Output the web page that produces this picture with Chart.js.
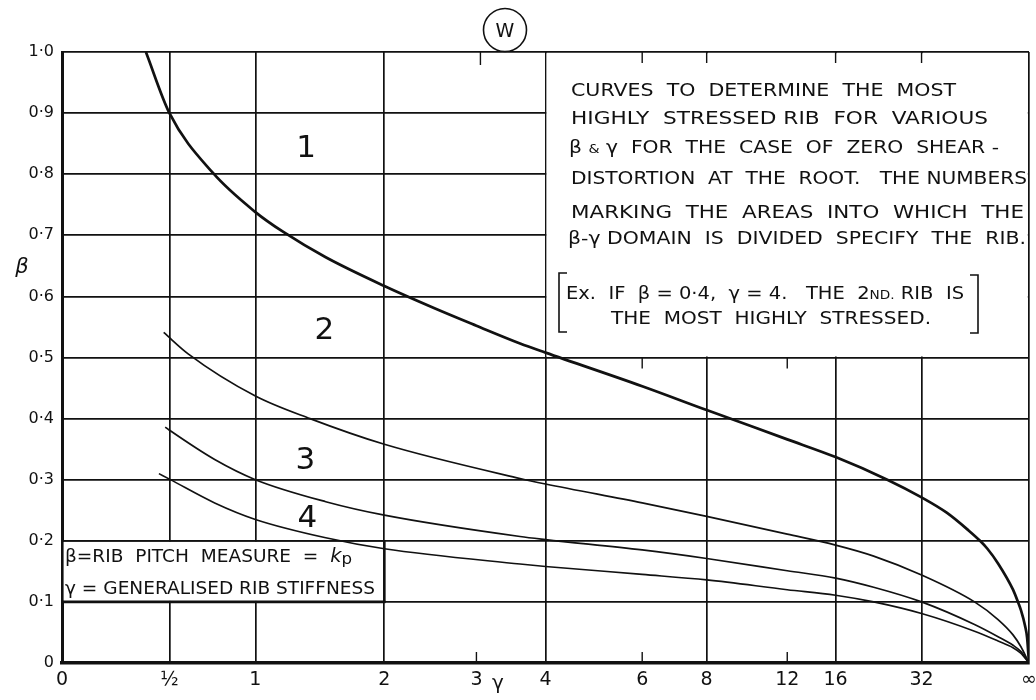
<!DOCTYPE html>
<html>
<head>
<meta charset="utf-8">
<script src="https://cdn.jsdelivr.net/npm/chart.js@4/dist/chart.umd.min.js"></script>
<style>
  html, body { margin: 0; padding: 0; background: #fff; }
  #wrap { width: 1036px; height: 700px; }
</style>
</head>
<body>
<div id="wrap"><canvas id="chart" width="1036" height="700"></canvas></div>
<script>
// γ divisions along the bottom scale and their labels
const xTickGamma  = [0, 0.5, 1, 2, 3, 4, 6, 8, 12, 16, 32, Infinity];
const xTickLabels = ['0', '½', '1', '2', '3', '4', '6', '8', '12', '16', '32', '∞'];
// divisions that only get a short tick instead of a full rule
const xShortTicks = [3, 6, 12];

// β divisions and their labels
const yTickValues = [0, 0.1, 0.2, 0.3, 0.4, 0.5, 0.6, 0.7, 0.8, 0.9, 1.0];
const yTickLabels = ['0', '0·1', '0·2', '0·3', '0·4', '0·5', '0·6', '0·7', '0·8', '0·9', '1·0'];

// Boundary between regions 1 and 2
const curve12Gamma = [0.38, 0.5, 0.74, 1, 1.19, 1.5, 2, 2.5, 3, 3.6, 4, 6, 8, 12, 16, 23.3, 32, 43, 60, 75, 89, 121, 238, 360, 480, 970, 2000, Infinity];
const curve12Beta  = [1.0, 0.9, 0.802, 0.738, 0.705, 0.664, 0.617, 0.581, 0.552, 0.523, 0.508, 0.453, 0.414, 0.366, 0.337, 0.3, 0.271, 0.246, 0.217, 0.2, 0.187, 0.163, 0.12, 0.098, 0.086, 0.061, 0.042, 0];

// Boundary between regions 2 and 3
const curve23Gamma = [0.47, 0.6, 1, 1.38, 2, 3.6, 4, 6, 8, 12, 16, 20.9, 32, 67, 121, 238, 466, Infinity];
const curve23Beta  = [0.541, 0.506, 0.437, 0.4, 0.358, 0.302, 0.293, 0.262, 0.24, 0.211, 0.193, 0.175, 0.144, 0.1, 0.071, 0.046, 0.027, 0];

// Boundary between regions 3 and 4
const curve34Gamma = [0.478, 0.5, 0.75, 1, 1.5, 2, 3.6, 4, 6, 8, 12, 16, 20.9, 32, 67, 121, 238, 466, Infinity];
const curve34Beta  = [0.386, 0.381, 0.333, 0.3, 0.264, 0.242, 0.207, 0.202, 0.185, 0.171, 0.151, 0.139, 0.124, 0.1, 0.063, 0.043, 0.029, 0.019, 0];

// Boundary between regions 4 and 5
const curve45Gamma = [0.4455, 0.5, 0.75, 1, 1.5, 2, 3.6, 4, 6, 8, 12, 16, 20.9, 32, 67, 121, 238, 466, Infinity];
const curve45Beta  = [0.31, 0.301, 0.262, 0.235, 0.205, 0.187, 0.162, 0.158, 0.145, 0.136, 0.12, 0.111, 0.1, 0.081, 0.052, 0.036, 0.025, 0.016, 0];

// Region numbers and where they sit (γ, β)
const regionNames = ['1', '2', '3', '4'];
const regionGamma = [1.35, 1.49, 1.345, 1.36];
const regionBeta  = [0.846, 0.549, 0.336, 0.241];

// The γ scale is drawn as γ/(γ+4), which sends ∞ to the right-hand edge
const toU = g => (g === Infinity ? 1 : g / (g + 4));

const INK = '#111';
const FONT = '"DejaVu Sans", sans-serif';

function curve(gammas, betas, width) {
  return {
    data: gammas.map((g, i) => ({ x: toU(g), y: betas[i] })),
    showLine: true,
    borderColor: INK,
    borderWidth: width,
    pointRadius: 0,
    cubicInterpolationMode: 'monotone',
    fill: false
  };
}

// Draws a line of lettering stretched to a set width; segs = [text, scale, style, dy]
function letter(ctx, segs, x, cy, width, size) {
  const parts = segs.map(s => ({ t: s[0], k: s[1] || 1, st: s[2] || '', dy: s[3] || 0 }));
  let total = 0;
  parts.forEach(p => {
    ctx.font = `${p.st} ${p.k * size}px ${FONT}`;
    p.w = ctx.measureText(p.t).width;
    total += p.w;
  });
  ctx.save();
  ctx.translate(x, cy + 0.365 * size);
  ctx.scale(width / total, 1);
  ctx.textAlign = 'left';
  ctx.textBaseline = 'alphabetic';
  let cx = 0;
  parts.forEach(p => {
    ctx.font = `${p.st} ${p.k * size}px ${FONT}`;
    ctx.fillText(p.t, cx, p.dy);
    cx += p.w;
  });
  ctx.restore();
}

function glyph(ctx, text, cx, cy, size, style) {
  ctx.save();
  ctx.font = `${style || ''} ${size}px ${FONT}`;
  ctx.textAlign = 'center';
  ctx.textBaseline = 'alphabetic';
  ctx.fillText(text, cx, cy + 0.365 * size);
  ctx.restore();
}

function seg(ctx, x1, y1, x2, y2, w) {
  ctx.beginPath();
  ctx.lineWidth = w;
  ctx.moveTo(x1, y1);
  ctx.lineTo(x2, y2);
  ctx.stroke();
}

const sheet = {
  id: 'sheet',
  beforeDraw(chart) {
    const ctx = chart.ctx;
    ctx.save();
    ctx.fillStyle = '#fff';
    ctx.fillRect(0, 0, chart.width, chart.height);
    ctx.restore();
  },
  beforeDatasetsDraw(chart) {
    const ctx = chart.ctx, xs = chart.scales.x, ys = chart.scales.y, a = chart.chartArea;
    const X = g => xs.getPixelForValue(toU(g));
    const Y = b => ys.getPixelForValue(b);
    ctx.save();
    ctx.strokeStyle = INK;
    ctx.fillStyle = '#fff';

    // note panel in the upper right, bounded by γ = 4 and β = 0.5
    const nx = X(4), ny = Y(0.5);
    ctx.fillRect(nx + 1, a.top + 1.2, a.right - nx - 2.2, ny - a.top - 2.2);
    [6, 8, 16, 32].forEach(g => seg(ctx, X(g), a.top, X(g), a.top + 11, 1.4));
    [6, 12].forEach(g => seg(ctx, X(g), ny, X(g), ny + 11, 1.4));

    // key panel in the lower left, bounded by γ = 2 and β = 0.1 … 0.2
    const kx = X(2), kt = Y(0.2), kb = Y(0.1);
    ctx.fillRect(a.left + 1.6, kt + 1, kx - a.left - 2.6, kb - kt - 2);
    seg(ctx, kx, kt, kx, kb + 1, 2.6);
    seg(ctx, a.left, kb, kx + 1, kb, 2.6);
    seg(ctx, a.left, kt, kx, kt, 1.8);

    // short division marks
    seg(ctx, X(3) + 4, a.top, X(3) + 4, a.top + 13, 1.4);
    xShortTicks.forEach(g => seg(ctx, X(g), a.bottom, X(g), a.bottom - 11, 1.4));
    ctx.restore();
  },
  afterDatasetsDraw(chart) {
    const ctx = chart.ctx, xs = chart.scales.x, ys = chart.scales.y;
    ctx.save();
    ctx.fillStyle = INK;
    ctx.strokeStyle = INK;

    // region numbers
    regionNames.forEach((n, i) => {
      glyph(ctx, n, xs.getPixelForValue(toU(regionGamma[i])), ys.getPixelForValue(regionBeta[i]), 31);
    });

    // note
    const S = 17;
    letter(ctx, [['CURVES  TO  DETERMINE  THE  MOST']], 571, 90, 385, S);
    letter(ctx, [['HIGHLY  STRESSED RIB  FOR  VARIOUS']], 571, 118, 417, S);
    letter(ctx, [['β '], ['&', 0.7], [' γ  FOR  THE  CASE  OF  ZERO  SHEAR -']], 569, 147, 430, S);
    letter(ctx, [['DISTORTION  AT  THE  ROOT.   THE NUMBERS']], 571, 178, 456, S);
    letter(ctx, [['MARKING  THE  AREAS  INTO  WHICH  THE']], 571, 212, 453, S);
    letter(ctx, [['β-γ DOMAIN  IS  DIVIDED  SPECIFY  THE  RIB.']], 568, 238, 458, S);
    letter(ctx, [['Ex.  IF  β = 0·4,  γ = 4.   THE  2'], ['ND.', 0.7], [' RIB  IS']], 566, 293, 398, S);
    letter(ctx, [['THE  MOST  HIGHLY  STRESSED.']], 611, 318, 320, S);

    // brackets round the example
    ctx.lineWidth = 1.6;
    ctx.beginPath();
    ctx.moveTo(567, 273); ctx.lineTo(559, 273); ctx.lineTo(559, 332); ctx.lineTo(567, 332);
    ctx.moveTo(970, 275); ctx.lineTo(978, 275); ctx.lineTo(978, 333); ctx.lineTo(970, 333);
    ctx.stroke();

    // key
    letter(ctx, [['β=RIB  PITCH  MEASURE  =  '], ['k', 1.05, 'italic'], ['p', 0.9, '', 2]], 65, 555, 287, 18);
    letter(ctx, [['γ = GENERALISED RIB STIFFNESS']], 65, 587, 310, 18);

    // axis letters
    glyph(ctx, 'β', 22, 265, 21, 'italic');
    glyph(ctx, 'γ', 498, 682, 20);

    // sheet mark
    ctx.lineWidth = 1.6;
    ctx.beginPath();
    ctx.arc(505, 30, 21.5, 0, Math.PI * 2);
    ctx.stroke();
    glyph(ctx, 'W', 505, 30, 19);
    ctx.restore();
  }
};

new Chart(document.getElementById('chart'), {
  type: 'scatter',
  data: {
    datasets: [
      curve(curve12Gamma, curve12Beta, 2.7),
      curve(curve23Gamma, curve23Beta, 1.7),
      curve(curve34Gamma, curve34Beta, 1.7),
      curve(curve45Gamma, curve45Beta, 1.6)
    ]
  },
  options: {
    responsive: false,
    animation: false,
    devicePixelRatio: 1,
    layout: { padding: { top: 52, right: 7, left: 0, bottom: 0 } },
    plugins: { legend: { display: false }, tooltip: { enabled: false } },
    scales: {
      x: {
        type: 'linear',
        min: 0,
        max: 1,
        afterBuildTicks: s => { s.ticks = xTickGamma.map(g => ({ value: toU(g) })); },
        afterFit: s => { s.height = 37; s.paddingLeft = 0; s.paddingRight = 0; },
        ticks: {
          autoSkip: false, maxRotation: 0, minRotation: 0, padding: 6,
          color: INK, font: { family: FONT, size: 19 },
          callback: (v, i) => xTickLabels[i]
        },
        grid: {
          drawTicks: false,
          lineWidth: 1.7,
          color: c => (xShortTicks.includes(xTickGamma[c.index]) ? 'rgba(0,0,0,0)' : INK)
        },
        border: { display: true, color: INK, width: 3.5 }
      },
      y: {
        type: 'linear',
        min: 0,
        max: 1,
        afterBuildTicks: s => { s.ticks = yTickValues.map(v => ({ value: v })); },
        afterFit: s => { s.width = 62; },
        ticks: {
          padding: 8,
          color: INK, font: { family: FONT, size: 16 },
          callback: (v, i) => yTickLabels[i]
        },
        grid: { drawTicks: false, lineWidth: 1.7, color: INK },
        border: { display: true, color: INK, width: 3 }
      }
    }
  },
  plugins: [sheet]
});
</script>
</body>
</html>
